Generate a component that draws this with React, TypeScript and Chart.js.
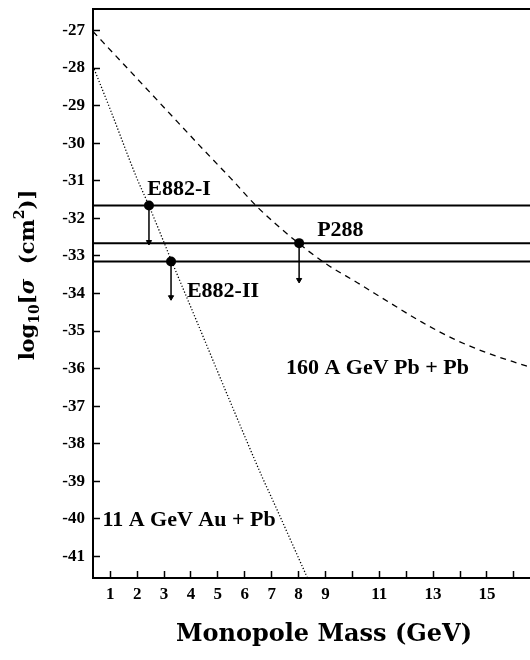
import { useEffect, useRef } from 'react';
import { Chart, registerables } from 'chart.js';

Chart.register(...registerables);

// ---- axis ranges & ticks ----
const xMin = 0.36;
const xMax = 17.53;
const yMin = -41.57;
const yMax = -26.43;
const xTickValues = [1, 2, 3, 4, 5, 6, 7, 8, 9, 10, 11, 12, 13, 14, 15, 16];
const xTickLabelled = [1, 2, 3, 4, 5, 6, 7, 8, 9, 11, 13, 15];
const yTickValues = [-41, -40, -39, -38, -37, -36, -35, -34, -33, -32, -31, -30, -29, -28, -27];

// ---- experimental limits ----
const limitLevels = [-31.66, -32.66, -33.15];
const expNames = ['E882-I', 'E882-II', 'P288'];
const expMass = [2.44, 3.26, 8.02];
const expLimit = [-31.66, -33.15, -32.66];
const expArrowEnd = [-32.63, -34.1, -33.64];

// ---- theory curves ----
const pbMass = [0.36, 1.5, 3.0, 4.5, 5.5, 6.5, 7.84, 9.0, 10.2, 11.4, 12.6, 13.8, 15.0, 16.43, 16.6];
const pbLogSigma = [-27.03, -27.9, -29.05, -30.2, -30.95, -31.72, -32.57, -33.2, -33.72, -34.25, -34.77, -35.22, -35.58, -35.92, -35.96];
const auMass = [0.36, 1.0, 2.0, 2.4, 3.26, 4.28, 5.5, 6.67, 7.04, 8.33];
const auLogSigma = [-27.95, -29.1, -30.95, -31.6, -33.1, -34.85, -36.95, -38.92, -39.5, -41.57];

// ---- annotations ----
const annoText = ['E882-I', 'E882-II', 'P288', '160 A GeV Pb + Pb', '11 A GeV Au + Pb'];
const annoX = [2.38, 3.85, 8.69, 7.53, 0.71];
const annoY = [-31.37, -34.09, -32.46, -36.14, -40.18];

const annotationPlugin = {
  id: 'annotations',
  afterDatasetsDraw(chart: any) {
    const { ctx, scales } = chart;
    ctx.save();
    ctx.fillStyle = '#000';
    ctx.font = 'bold 22px "Liberation Serif"';
    ctx.textAlign = 'left';
    ctx.textBaseline = 'alphabetic';
    annoText.forEach((t, i) => {
      ctx.fillText(t, scales.x.getPixelForValue(annoX[i]), scales.y.getPixelForValue(annoY[i]));
    });
    ctx.restore();
  },
};

const yTitlePlugin = {
  id: 'yTitle',
  afterDraw(chart: any) {
    const ctx = chart.ctx;
    const big = 'bold 21px "DejaVu Serif"';
    const small = 'bold 14px "DejaVu Serif"';
    const ital = 'bold italic 21px "DejaVu Serif"';
    const pieces = [
      { t: 'log', f: big, dy: 0 },
      { t: '10', f: small, dy: 5 },
      { t: '[', f: big, dy: 0 },
      { t: 'σ', f: ital, dy: 0 },
      { t: '  (cm', f: big, dy: 0 },
      { t: '2', f: small, dy: -10 },
      { t: ')]', f: big, dy: 0 },
    ];
    ctx.save();
    ctx.fillStyle = '#000';
    ctx.textBaseline = 'alphabetic';
    ctx.textAlign = 'left';
    let total = 0;
    const widths = pieces.map((p) => {
      ctx.font = p.f;
      const w = ctx.measureText(p.t).width;
      total += w;
      return w;
    });
    ctx.translate(34, 275);
    ctx.rotate(-Math.PI / 2);
    let x = -total / 2;
    pieces.forEach((p, i) => {
      ctx.font = p.f;
      ctx.fillText(p.t, x, p.dy);
      x += widths[i];
    });
    ctx.restore();
  },
};

const tickFont = { family: '"Liberation Serif"', size: 17, weight: 'bold' as const };

export default function App() {
  const ref = useRef<HTMLCanvasElement | null>(null);

  useEffect(() => {
    if (!ref.current) return;
    const datasets: any[] = [];
    datasets.push({
      data: expMass.map((m, i) => ({ x: m, y: expLimit[i] })),
      showLine: false,
      pointRadius: 5,
      pointBackgroundColor: '#000',
      pointBorderColor: '#000',
      pointBorderWidth: 0,
    });
    expMass.forEach((m, i) => {
      datasets.push({
        label: expNames[i],
        data: [{ x: m, y: expLimit[i] }, { x: m, y: expArrowEnd[i] }],
        showLine: true,
        borderColor: '#000',
        borderWidth: 1.5,
        pointRadius: [0, 3],
        pointStyle: 'triangle',
        pointRotation: 180,
        pointBackgroundColor: '#000',
        pointBorderColor: '#000',
        pointBorderWidth: 1,
      });
    });
    limitLevels.forEach((lv) => {
      datasets.push({
        data: [{ x: xMin, y: lv }, { x: xMax, y: lv }],
        showLine: true,
        borderColor: '#000',
        borderWidth: 2,
        pointRadius: 0,
      });
    });
    datasets.push({
      data: pbMass.map((m, i) => ({ x: m, y: pbLogSigma[i] })),
      showLine: true,
      borderColor: '#000',
      borderWidth: 1.3,
      borderDash: [6, 5],
      cubicInterpolationMode: 'monotone',
      pointRadius: 0,
    });
    datasets.push({
      data: auMass.map((m, i) => ({ x: m, y: auLogSigma[i] })),
      showLine: true,
      borderColor: '#000',
      borderWidth: 1.3,
      borderDash: [1.2, 2],
      cubicInterpolationMode: 'monotone',
      pointRadius: 0,
    });

    const chart = new Chart(ref.current, {
      type: 'scatter',
      data: { datasets },
      plugins: [annotationPlugin, yTitlePlugin],
      options: {
        animation: false,
        responsive: false,
        maintainAspectRatio: false,
        devicePixelRatio: 1,
        layout: { padding: 0 },
        events: [],
        plugins: { legend: { display: false }, tooltip: { enabled: false } },
        scales: {
          x: {
            type: 'linear',
            position: 'bottom',
            min: xMin,
            max: xMax,
            afterBuildTicks: (s: any) => {
              s.ticks = xTickValues.map((v) => ({ value: v }));
            },
            afterFit: (s: any) => {
              s.height = 82;
              s.paddingLeft = 0;
              s.paddingRight = 0;
            },
            grid: { drawOnChartArea: false, drawTicks: true, tickLength: -7, tickWidth: 1.5, tickColor: '#000' },
            border: { display: true, color: '#000', width: 2 },
            ticks: {
              color: '#000',
              font: tickFont,
              padding: 13,
              autoSkip: false,
              maxRotation: 0,
              callback: (v: any) => (xTickLabelled.includes(Number(v)) ? String(v) : ''),
            },
            title: {
              display: true,
              text: 'Monopole Mass (GeV)',
              color: '#000',
              font: { family: '"DejaVu Serif"', size: 24, weight: 'bold' },
              padding: { top: 0, bottom: 11 },
            },
          },
          xTop: {
            type: 'linear',
            position: 'top',
            min: xMin,
            max: xMax,
            ticks: { display: false },
            grid: { display: false },
            border: { display: true, color: '#000', width: 2 },
            afterFit: (s: any) => {
              s.height = 9;
            },
          },
          y: {
            type: 'linear',
            position: 'left',
            min: yMin,
            max: yMax,
            afterBuildTicks: (s: any) => {
              s.ticks = yTickValues.map((v) => ({ value: v }));
            },
            afterFit: (s: any) => {
              s.width = 93;
              s.paddingTop = 0;
              s.paddingBottom = 0;
            },
            grid: { drawOnChartArea: false, drawTicks: true, tickLength: -7, tickWidth: 1.5, tickColor: '#000' },
            border: { display: true, color: '#000', width: 2 },
            ticks: {
              color: '#000',
              font: tickFont,
              padding: 15,
              autoSkip: false,
              callback: (v: any) => String(v),
            },
          },
        },
      } as any,
    });
    return () => chart.destroy();
  }, []);

  return (
    <div
      style={{
        position: 'fixed',
        left: 0,
        top: 0,
        width: 530,
        height: 660,
        overflow: 'hidden',
        background: '#fff',
      }}
    >
      <canvas ref={ref} width={560} height={660} style={{ display: 'block' }} />
    </div>
  );
}
